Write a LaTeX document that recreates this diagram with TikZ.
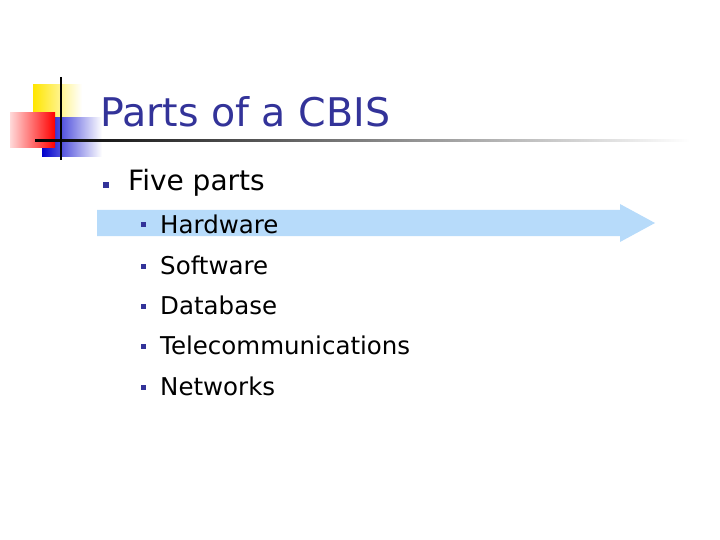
\documentclass[tikz,border=0pt]{standalone}
\usepackage{fontspec}
\setmainfont{DejaVu Sans}
\definecolor{navy}{HTML}{333399}
\definecolor{hl}{HTML}{B7DBFA}
\begin{document}
\begin{tikzpicture}[x=1pt,y=-1pt,
  bul/.style={fill=navy,minimum size=6pt,inner sep=0pt},
  bul2/.style={fill=navy,minimum size=5pt,inner sep=0pt},
  item/.style={anchor=west,inner sep=0pt,font=\fontsize{24.5}{28}\selectfont}]
\useasboundingbox (0,0) rectangle (720,540);
% logo
\shade[left color=yellow!80!orange,right color=white] (33,85) rectangle (82,120);
\shade[left color=blue!80!black,right color=white] (42,118) rectangle (102,157);
\shade[left color=red!15!white,right color=red] (10,113) rectangle (55,148);
\shade[left color=black,right color=white] (35,140) rectangle (690,142);
\draw[line width=2pt] (61,77) -- (61,160);
% title
\node[anchor=base west,inner sep=0pt,text=navy,font=\fontsize{39.5}{44}\selectfont] (title) at (100,127) {Parts of a CBIS};
% highlight arrow
\fill[hl] (97,210) -- (620,210) -- (620,204) -- (655,223) -- (620,242) -- (620,236) -- (97,236) -- cycle;
\node[bul] (b0) at (106,185) {};
\node[item,font=\fontsize{28}{32}\selectfont] (t0) at (128,183) {Five parts};
\foreach \y/\t [count=\i] in {225/Hardware,266/Software,306/Database,346/Telecommunications,387/Networks}{
  \node[bul2] (b\i) at (143,\y) {};
  \node[item] (t\i) at (160,\y-1) {\t};
}
\end{tikzpicture}
\end{document}
